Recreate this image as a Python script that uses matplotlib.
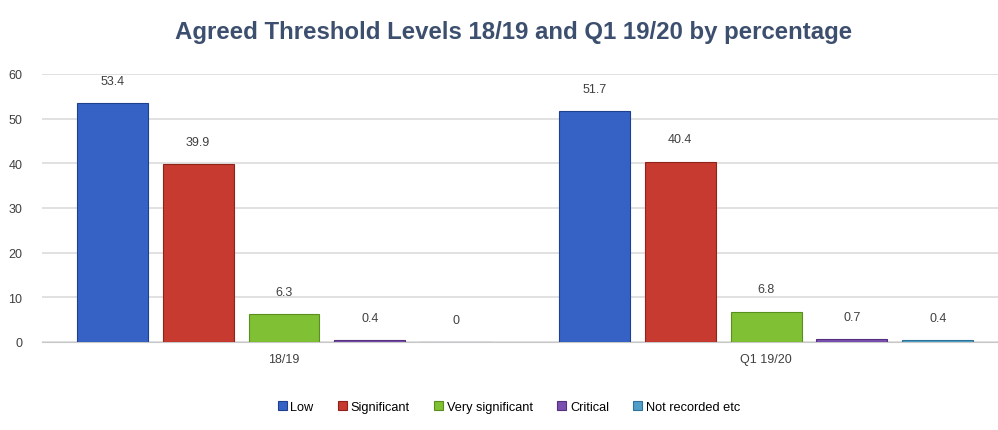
import matplotlib
matplotlib.use("Agg")
import matplotlib.pyplot as plt
import numpy as np

# données
categories = ["18/19", "Q1 19/20"]
series = ["Low", "Significant", "Very significant", "Critical", "Not recorded etc"]
low = [53.4, 51.7]
significant = [39.9, 40.4]
very_significant = [6.3, 6.8]
critical = [0.4, 0.7]
not_recorded = [0, 0.4]
labels_fy = ["53.4", "39.9", "6.3", "0.4", "0"]
labels_q1 = ["51.7", "40.4", "6.8", "0.7", "0.4"]
yticks = [0, 10, 20, 30, 40, 50, 60]

colors = ["#3562c4", "#c63a30", "#80c034", "#7a4fb0", "#4f9fc8"]
edges = ["#1f3f8f", "#8f2219", "#5a8f1e", "#55307f", "#2f7398"]
font = ["Liberation Sans", "DejaVu Sans"]

fig = plt.figure(figsize=(9.98, 4.31), dpi=100)
ax = fig.add_axes([0.042, 0.2042, 0.958, 0.6218])

values = [low, significant, very_significant, critical, not_recorded]
x = np.arange(len(categories))
pitch, width = 0.178, 0.147
for i, (name, vals) in enumerate(zip(series, values)):
    pos = x + (i - 2) * pitch
    ax.bar(pos, vals, width=width, color=colors[i], edgecolor=edges[i],
           linewidth=0.8, label=name, zorder=3)
    for p, v, lbl in zip(pos, vals, [labels_fy[i], labels_q1[i]]):
        ax.annotate(lbl, (p, v), xytext=(0, 16), textcoords="offset points",
                    ha="center", va="center", fontsize=9, color="#404040",
                    family=font)

ax.set_xlim(-0.502, 1.481)
ax.set_ylim(0, 60)
ax.set_yticks(yticks)
ax.set_xticks(x)
ax.set_xticklabels(categories, family=font, fontsize=9, color="#404040")
for t in ax.get_yticklabels():
    t.set_family(font); t.set_fontsize(9); t.set_color("#404040")
ax.tick_params(length=0, pad=8)
ax.tick_params(axis="y", pad=14)
ax.grid(True, axis="y", color="#dcdcdc", lw=1.2, zorder=0)
for s in ["top", "right", "left"]:
    ax.spines[s].set_visible(False)
ax.spines["bottom"].set_color("#c8c8c8")

fig.suptitle("Agreed Threshold Levels 18/19 and Q1 19/20 by percentage",
             x=0.515, y=0.952, fontsize=17.3, fontweight="bold", color="#3d4f6e",
             family=font)
fig.legend(loc="center", bbox_to_anchor=(0.51, 0.053), ncol=5, frameon=False,
           prop={"family": font, "size": 9.2}, handlelength=0.7,
           handleheight=0.7, handletextpad=0.3, columnspacing=1.9)

fig.savefig("out.png", dpi=100)
